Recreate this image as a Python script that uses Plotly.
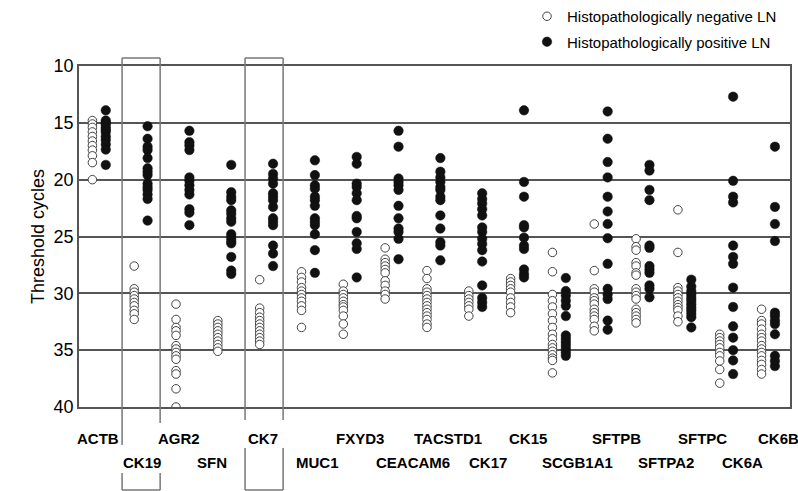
import plotly.graph_objects as go

genes = ["ACTB", "CK19", "AGR2", "SFN", "CK7", "MUC1", "FXYD3", "CEACAM6", "TACSTD1",
         "CK17", "CK15", "SCGB1A1", "SFTPB", "SFTPA2", "SFTPC", "CK6A", "CK6B"]

neg_ct = [
    [14.8, 15.1, 15.4, 15.8, 16.2, 16.6, 17.0, 17.4, 17.9, 18.5, 20.0],
    [27.6, 29.6, 29.9, 30.2, 30.5, 30.8, 31.1, 31.5, 31.8, 32.3],
    [30.95, 32.3, 33.0, 33.3, 33.7, 34.6, 34.9, 35.2, 35.5, 35.8, 36.8, 37.1, 38.4, 40.0],
    [32.4, 32.7, 33.0, 33.3, 33.6, 33.9, 34.2, 34.5, 34.8, 35.1],
    [28.8, 31.3, 31.7, 32.1, 32.4, 32.7, 33.0, 33.3, 33.6, 33.9, 34.2, 34.5],
    [28.1, 28.6, 29.0, 29.5, 29.8, 30.1, 30.4, 30.7, 31.1, 31.5, 33.0],
    [29.2, 29.8, 30.1, 30.4, 30.7, 31.0, 31.2, 31.5, 32.0, 32.7, 33.6],
    [26.0, 27.0, 27.3, 27.6, 27.9, 28.2, 28.9, 29.3, 29.8, 30.1, 30.5],
    [28.0, 28.7, 29.6, 29.9, 30.2, 30.5, 30.8, 31.1, 31.4, 31.7, 32.0, 32.3, 32.7, 33.0],
    [29.8, 30.2, 30.5, 30.8, 31.1, 31.4, 32.0],
    [28.7, 29.0, 29.3, 29.6, 29.9, 30.4, 30.8, 31.2, 31.7],
    [26.4, 28.1, 30.1, 30.65, 31.2, 31.8, 32.4, 33.0, 33.6, 34.0, 34.5, 34.8, 35.1, 35.4, 35.7, 35.9, 37.0],
    [23.9, 28.0, 29.6, 29.9, 30.4, 30.65, 30.95, 31.4, 31.7, 32.0, 32.3, 32.9, 33.3],
    [25.2, 25.9, 26.2, 27.3, 27.6, 28.2, 28.4, 29.6, 29.9, 30.2, 30.5, 31.4, 31.7, 32.0, 32.3, 32.6],
    [22.65, 26.4, 29.5, 29.8, 30.1, 30.4, 30.7, 31.0, 31.25, 31.5, 32.0, 32.5],
    [33.6, 33.9, 34.2, 34.5, 34.8, 35.2, 35.5, 35.95, 36.7, 37.9],
    [31.4, 32.4, 32.7, 33.15, 33.6, 33.9, 34.2, 34.6, 34.9, 35.2, 35.5, 35.9, 36.25, 36.7, 37.1],
]

pos_ct = [
    [13.9, 14.8, 15.0, 15.1, 15.4, 15.6, 15.8, 16.2, 16.5, 16.9, 17.35, 18.7],
    [15.3, 16.4, 17.1, 17.4, 18.1, 19.0, 19.3, 19.6, 20.35, 20.65, 20.9, 21.3, 21.7, 23.6],
    [15.7, 16.7, 17.0, 17.4, 19.8, 20.1, 20.5, 20.9, 21.3, 22.6, 22.9, 24.0],
    [18.7, 21.1, 21.5, 21.8, 22.7, 23.0, 23.4, 23.7, 24.8, 25.1, 25.4, 25.6, 26.8, 28.0, 28.3],
    [18.6, 19.5, 19.9, 20.35, 21.2, 21.5, 21.8, 22.4, 23.4, 23.7, 24.0, 25.8, 26.5, 27.6],
    [18.3, 19.6, 20.5, 20.8, 21.5, 21.8, 22.3, 23.4, 23.7, 24.0, 24.8, 26.2, 28.2],
    [18.0, 18.6, 20.35, 20.65, 21.2, 21.8, 23.2, 23.4, 24.6, 25.6, 26.1, 28.6],
    [15.7, 17.1, 19.9, 20.2, 20.5, 20.9, 22.3, 23.4, 24.3, 24.6, 25.2, 27.0],
    [18.1, 19.3, 19.8, 20.2, 20.65, 20.9, 21.5, 21.8, 23.15, 24.3, 25.5, 25.8, 27.1],
    [21.2, 21.7, 22.1, 22.6, 23.15, 24.2, 24.6, 25.2, 25.65, 26.2, 27.2, 29.3, 30.4, 30.8, 31.2],
    [13.9, 20.2, 21.5, 24.0, 24.2, 25.1, 25.8, 26.1, 27.9, 28.3, 28.6],
    [28.65, 29.8, 30.2, 30.65, 31.1, 32.0, 33.7, 34.0, 34.3, 34.6, 34.9, 35.2, 35.5],
    [14.0, 16.4, 18.45, 19.8, 21.5, 22.8, 23.9, 25.15, 27.4, 29.6, 30.1, 30.5, 32.4, 33.2],
    [18.7, 19.2, 20.9, 21.8, 25.8, 26.0, 27.6, 27.9, 28.2, 29.3, 29.6, 30.35],
    [28.8, 29.4, 29.8, 30.1, 30.4, 30.65, 30.95, 31.25, 31.5, 31.8, 32.1, 33.0],
    [12.7, 20.1, 21.5, 22.0, 25.8, 26.8, 27.4, 29.5, 31.2, 32.9, 33.9, 35.0, 35.9, 37.1],
    [17.1, 22.4, 23.9, 25.4, 31.7, 32.0, 32.4, 32.7, 33.6, 35.5, 35.95, 36.4],
]

y_ticks = [10, 15, 20, 25, 30, 35, 40]
boxed_genes = ["CK19", "CK7"]

# ---- layout helpers (pixel geometry) ----
W, H = 798, 491
ML, MR, MT, MB = 79, 8, 66, 84
PH = H - MT - MB


def py(ypix):
    """pixel y (from top) -> paper y"""
    return (H - MB - ypix) / PH


FONT = "Arial, Liberation Sans, sans-serif"
label_shift = [-2, 0, -5, -13, -4, 8, 9, 20, 13, 12, 10, 18, 15, 22, 17, 15, 9]

fig = go.Figure()

nx, ny, px_, pyv = [], [], [], []
for i, g in enumerate(genes):
    for v in neg_ct[i]:
        nx.append(i - 0.18)
        ny.append(v)
    for v in pos_ct[i]:
        px_.append(i + 0.14)
        pyv.append(v)

fig.add_trace(go.Scatter(
    x=nx, y=ny, mode="markers", name="Histopathologically negative LN",
    legendgroup="neg",
    marker=dict(symbol="circle", size=8.5, color="white", line=dict(color="#444", width=1)),
))
fig.add_trace(go.Scatter(
    x=px_, y=pyv, mode="markers", name="Histopathologically positive LN",
    legendgroup="pos",
    marker=dict(symbol="circle", size=9.5, color="#111", line=dict(color="#111", width=0.5)),
))

# gene labels, alternating rows
annotations = []
for i, g in enumerate(genes):
    row_y = 438 if i % 2 == 0 else 462
    annotations.append(dict(
        x=i, y=py(row_y), xref="x", yref="paper", text=g, showarrow=False,
        xanchor="center", yanchor="middle", xshift=label_shift[i],
        font=dict(family=FONT, size=15, color="black", weight="bold"),
    ))

# boxes around highlighted genes (with gaps where labels sit)
shapes = []
box_geom = {"CK19": (-0.47, 0.44, [(58, 445), (473, 490)], [(58, 423), (473, 490)]),
            "CK7": (-0.53, 0.38, [(58, 420), (448, 490)], [(58, 420), (448, 490)])}
line_style = dict(color="#777", width=1.5)
for g in boxed_genes:
    i = genes.index(g)
    dl, dr, lsegs, rsegs = box_geom[g]
    x0, x1 = i + dl, i + dr
    for (a, b) in lsegs:
        shapes.append(dict(type="line", xref="x", yref="paper", x0=x0, x1=x0,
                           y0=py(a), y1=py(b), line=line_style))
    for (a, b) in rsegs:
        shapes.append(dict(type="line", xref="x", yref="paper", x0=x1, x1=x1,
                           y0=py(a), y1=py(b), line=line_style))
    for yy in (58, 490):
        shapes.append(dict(type="line", xref="x", yref="paper", x0=x0, x1=x1,
                           y0=py(yy), y1=py(yy), line=line_style))

fig.update_layout(
    width=W, height=H,
    margin=dict(l=ML, r=MR, t=MT, b=MB, autoexpand=False),
    paper_bgcolor="white", plot_bgcolor="white",
    font=dict(family=FONT, color="black"),
    showlegend=True,
    legend=dict(x=(527 - ML) / (W - ML - MR), y=py(0), xanchor="left", yanchor="top",
                font=dict(family=FONT, size=15, color="black"),
                bgcolor="rgba(0,0,0,0)", tracegroupgap=3, traceorder="grouped"),
    xaxis=dict(range=[-0.5, len(genes) - 0.5], showticklabels=False, showgrid=False,
               zeroline=False, showline=True, mirror=True, linecolor="#555", linewidth=1.5,
               ticks=""),
    yaxis=dict(range=[40, 10], tickvals=y_ticks, ticktext=[str(t) for t in y_ticks],
               tickfont=dict(family=FONT, size=18, color="black"),
               showgrid=True, gridcolor="#555", gridwidth=1.5, zeroline=False,
               showline=True, mirror=True, linecolor="#555", linewidth=1.5, ticks="",
               title=dict(text="Threshold cycles", font=dict(family=FONT, size=18, color="black"),
                          standoff=4)),
    annotations=annotations,
    shapes=shapes,
)

fig.write_html("out.html")
